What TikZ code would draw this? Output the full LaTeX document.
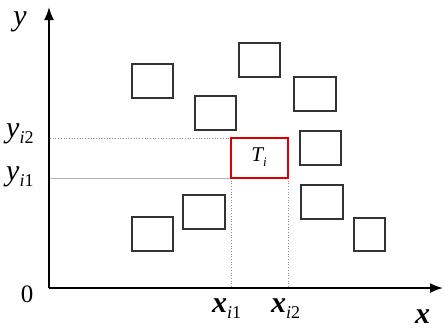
\documentclass[tikz,border=0pt]{standalone}
\usepackage{fontspec}
\setmainfont{Liberation Serif}
\usetikzlibrary{arrows.meta}
\tikzset{
  box/.style={draw=black!80, line width=1.4pt},
  redbox/.style={draw=red!85!black, line width=2.4pt},
  axis/.style={line width=1.8pt, -{Latex[length=13pt,width=10pt]}},
  guide/.style={draw=black!45, line width=0.7pt, dotted},
  guidesolid/.style={draw=black!30, line width=0.7pt},
  lab/.style={inner sep=0pt, font=\fontsize{30}{30}\selectfont\itshape},
  xlabst/.style={inner sep=0pt, font=\fontsize{30}{30}\selectfont\bfseries\itshape},
}
\newcommand{\subl}[2]{\raisebox{-6pt}{\fontsize{18}{18}\selectfont\mdseries\itshape #1\upshape #2}}
\begin{document}
\begin{tikzpicture}[x=1pt,y=-1pt]
\useasboundingbox (0,0) rectangle (444,330);
% axes
\coordinate (O) at (49,288);
\coordinate (ytip) at (49,7);
\coordinate (xtip) at (443,288);
\draw[axis] (O) -- (ytip);
\draw[axis] (O) -- (xtip);
% boxes
\draw[box] (132,64) rectangle (173,98) coordinate (b1);
\draw[box] (195,96) rectangle (236,130) coordinate (b2);
\draw[box] (239,43) rectangle (280,77) coordinate (b3);
\draw[box] (294,77) rectangle (336,111) coordinate (b4);
\draw[box] (300,131) rectangle (341,165) coordinate (b5);
\draw[box] (301,185) rectangle (343,219) coordinate (b6);
\draw[box] (354,218) rectangle (385,251) coordinate (b7);
\draw[box] (132,217) rectangle (173,251) coordinate (b8);
\draw[box] (183,195) rectangle (225,229) coordinate (b9);
% red box
\coordinate (Ttl) at (231,138);
\coordinate (Tbr) at (288,178);
\coordinate (Tbl) at (231,178);
\coordinate (Ttr) at (288,138);
\coordinate (ay2) at (50,138);
\coordinate (ay1) at (50,178);
\coordinate (ax1) at (231,287);
\coordinate (ax2) at (288,287);
\draw[guide] (ay2) -- (Ttl);
\draw[guidesolid] (ay1) -- (Tbl);
\draw[guide] (Tbl) -- (ax1);
\draw[guide] (Tbr) -- (ax2);
\draw[redbox] (Ttl) rectangle (Tbr);
\node[inner sep=0pt] (T) at (259,157) {\fontsize{21}{21}\selectfont\itshape T\raisebox{-5pt}{\fontsize{13}{13}\selectfont i}};
% labels
\node[lab] (ylab) at (20,22) {y};
\node[inner sep=0pt, font=\fontsize{25}{25}\selectfont] (zero) at (27,294) {0};
\node[lab, anchor=base west] (yi2) at (6,137) {y\subl{i}{2}};
\node[lab, anchor=base west] (yi1) at (6,180) {y\subl{i}{1}};
\node[xlabst, anchor=base west] (xi1) at (212,312) {x\subl{i}{1}};
\node[xlabst, anchor=base west] (xi2) at (271,312) {x\subl{i}{2}};
\node[xlabst, anchor=base west] (xlab) at (415,323) {x};
\end{tikzpicture}
\end{document}
